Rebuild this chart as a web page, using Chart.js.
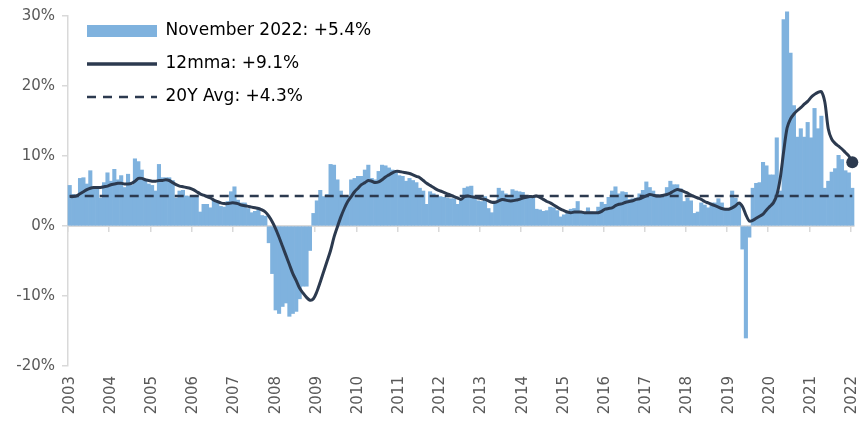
<!DOCTYPE html>
<html>
<head>
<meta charset="utf-8">
<script src="https://cdn.jsdelivr.net/npm/chart.js@4.4.1/dist/chart.umd.min.js"></script>
<style>
html,body{margin:0;padding:0;background:#ffffff;}
canvas{display:block;}
</style>
</head>
<body>
<canvas id="chart" width="862" height="424"></canvas>
<script>
// ---- data ----
const yearTicks = ['2003','2004','2005','2006','2007','2008','2009','2010','2011','2012',
                   '2013','2014','2015','2016','2017','2018','2019','2020','2021','2022'];
const firstMonth = { year: 2003, month: 11 };

// monthly % change (bars)
const monthlyChange = [
  5.8, 4.5, 4.4, 6.8, 6.9, 6.0, 7.9, 5.5, 5.5, 4.0, 6.2, 7.6,
  6.4, 8.1, 6.6, 7.2, 5.5, 7.4, 5.8, 9.6, 9.2, 8.0, 6.6, 6.0,
  5.8, 5.0, 8.8, 6.9, 6.9, 6.9, 6.5, 4.0, 5.0, 5.1, 4.3, 4.2,
  4.3, 4.4, 2.0, 3.1, 3.1, 2.6, 3.7, 3.5, 2.8, 2.7, 3.5, 4.9,
  5.6, 3.7, 3.3, 3.3, 2.5, 1.9, 2.1, 2.6, 1.5, 1.4, -2.4, -6.8,
  -12.0, -12.5, -11.5, -11.0, -12.9, -12.5, -12.2, -10.4, -8.6, -8.6, -3.5, 1.8,
  3.6, 5.1, 4.2, 4.5, 8.8, 8.7, 6.6, 5.0, 4.2, 4.2, 6.6, 6.8,
  7.1, 7.1, 8.0, 8.7, 6.8, 6.6, 7.8, 8.7, 8.6, 8.3, 8.0, 7.9,
  7.2, 7.1, 6.4, 6.8, 6.5, 6.2, 5.4, 5.0, 3.1, 4.9, 4.6, 4.4,
  4.2, 4.1, 4.0, 3.9, 3.9, 3.1, 3.7, 5.4, 5.6, 5.7, 4.2, 3.6,
  3.5, 4.2, 2.5, 1.9, 3.5, 5.4, 5.0, 4.6, 4.2, 5.2, 5.0, 4.9,
  4.8, 4.3, 4.2, 4.2, 2.4, 2.3, 2.1, 2.2, 2.7, 2.6, 2.2, 1.3,
  1.6, 1.8, 2.4, 2.5, 3.5, 1.9, 1.9, 2.6, 2.0, 1.9, 2.7, 3.4,
  3.1, 4.1, 5.0, 5.6, 4.6, 4.9, 4.8, 3.8, 3.9, 4.0, 4.6, 5.1,
  6.3, 5.5, 5.0, 4.5, 4.4, 4.5, 5.5, 6.4, 5.9, 5.9, 5.3, 3.5,
  4.0, 3.6, 1.8, 2.0, 3.3, 3.0, 2.6, 3.3, 3.3, 3.9, 3.3, 2.4,
  2.4, 5.0, 4.0, 3.3, -3.3, -16.0, -1.6, 5.4, 6.1, 6.2, 9.1, 8.6,
  7.3, 7.3, 12.6, 5.0, 29.5, 30.6, 24.7, 17.2, 12.7, 13.9, 12.7, 14.8,
  12.6, 16.8, 13.9, 15.7, 5.4, 6.4, 7.7, 8.2, 10.1, 9.5, 7.9, 7.6,
  5.4
];

// 12-month moving average (line)
const rolling12 = [
  4.2, 4.2, 4.3, 4.6, 4.9, 5.2, 5.4, 5.5, 5.5, 5.5, 5.6, 5.7,
  5.9, 6.0, 6.1, 6.1, 6.0, 6.0, 6.1, 6.4, 6.8, 6.8, 6.6, 6.5,
  6.4, 6.4, 6.5, 6.5, 6.6, 6.5, 6.2, 5.9, 5.7, 5.6, 5.5, 5.4,
  5.2, 4.9, 4.6, 4.4, 4.2, 4.0, 3.7, 3.5, 3.3, 3.2, 3.2, 3.3,
  3.3, 3.2, 3.0, 2.9, 2.8, 2.7, 2.6, 2.5, 2.3, 2.0, 1.4, 0.6,
  -0.4, -1.6, -2.9, -4.2, -5.5, -6.8, -7.8, -8.9, -9.6, -10.2, -10.6, -10.4,
  -9.4, -8.0, -6.5, -5.0, -3.5, -1.6, -0.1, 1.3, 2.5, 3.5, 4.2, 4.9,
  5.4, 5.9, 6.2, 6.5, 6.4, 6.2, 6.3, 6.6, 7.0, 7.3, 7.6, 7.8,
  7.8, 7.7, 7.6, 7.5, 7.3, 7.1, 6.9, 6.5, 6.1, 5.8, 5.5, 5.2,
  5.0, 4.8, 4.6, 4.4, 4.2, 4.0, 3.8, 4.2, 4.3, 4.2, 4.1, 4.0,
  3.9, 3.8, 3.6, 3.4, 3.4, 3.6, 3.8, 3.7, 3.6, 3.6, 3.7, 3.8,
  4.0, 4.1, 4.2, 4.2, 4.3, 4.1, 3.8, 3.5, 3.3, 3.0, 2.7, 2.4,
  2.2, 2.0, 1.9, 2.0, 2.0, 2.0, 1.9, 1.9, 1.9, 1.9, 1.9, 2.1,
  2.4, 2.5, 2.6, 2.9, 3.1, 3.2, 3.4, 3.5, 3.6, 3.8, 3.9, 4.1,
  4.3, 4.5, 4.4, 4.3, 4.3, 4.4, 4.5, 4.7, 5.0, 5.2, 5.1, 4.9,
  4.7, 4.4, 4.2, 4.0, 3.8, 3.5, 3.3, 3.1, 2.9, 2.7, 2.5, 2.4,
  2.4, 2.6, 2.9, 3.3, 2.8, 1.6, 0.7, 0.8, 1.1, 1.4, 1.7, 2.3,
  2.8, 3.3, 4.4, 6.8, 10.6, 14.0, 15.3, 16.0, 16.5, 16.9, 17.4, 17.8,
  18.4, 18.8, 19.1, 19.2, 17.7, 13.9, 12.4, 11.8, 11.4, 11.0, 10.5, 10.0,
  9.1
];

const avg20Y = 4.3;
const legendTexts = ['November 2022: +5.4%', '12mma: +9.1%', '20Y Avg: +4.3%'];

// ---- build ----
const categories = monthlyChange.map((_, i) => {
  const m0 = firstMonth.month - 1 + i;
  return (firstMonth.year + Math.floor(m0 / 12)) + '-' + String(m0 % 12 + 1).padStart(2, '0');
});
const avgLine = categories.map(() => avg20Y);

const barColor = '#7fb2de';
const lineColor = '#2c3a4f';
const axisGrey = '#d9d9d9';
const textGrey = '#595959';
const fontFamily = '"DejaVu Sans", "Liberation Sans", sans-serif';
const lastIdx = rolling12.length - 1;

function buildChart(canvas) {
  const legendPlace = {
    id: 'legendPlace',
    afterLayout(chart) {
      if (chart.legend) { chart.legend.top = 6.5; chart.legend.left = 71; }
    }
  };
  const rotateYears = {
    id: 'rotateYears',
    beforeDraw(chart) {
      const s = chart.scales.x2;
      if (s) { s.labelRotation = 90; s._labelItems = null; }
    }
  };

  const mmaDs = {
    type: 'line', data: rolling12,
    borderColor: lineColor, borderWidth: 3, tension: 0.3,
    pointRadius: c => c.dataIndex === lastIdx ? 6 : 0,
    pointBackgroundColor: lineColor, pointBorderWidth: 0,
    clip: false, order: 1, xAxisID: 'x', yAxisID: 'y'
  };
  const avgDs = {
    type: 'line', data: avgLine,
    borderColor: lineColor, borderWidth: 2.5, borderDash: [9, 6], pointRadius: 0,
    order: 2, xAxisID: 'x', yAxisID: 'y'
  };
  const barDs = {
    type: 'bar', data: monthlyChange,
    backgroundColor: barColor, borderWidth: 0, barPercentage: 1, categoryPercentage: 1,
    clip: false, order: 3, xAxisID: 'x', yAxisID: 'y'
  };

  const legendLabels = {
    usePointStyle: true, pointStyleWidth: 70, boxHeight: 12, padding: 16,
    color: textGrey, font: { family: fontFamily, size: 17 },
    generateLabels: () => [
      { text: legendTexts[0], fillStyle: barColor, strokeStyle: barColor, lineWidth: 0, pointStyle: 'rect', datasetIndex: 2 },
      { text: legendTexts[1], fillStyle: lineColor, strokeStyle: lineColor, lineWidth: 3.5, pointStyle: 'line', datasetIndex: 0 },
      { text: legendTexts[2], fillStyle: lineColor, strokeStyle: lineColor, lineWidth: 2.5, lineDash: [9, 7], pointStyle: 'line', datasetIndex: 1 }
    ]
  };

  const x = {
    type: 'category', position: { y: 0 }, offset: true,
    grid: {
      offset: true, drawOnChartArea: false, tickLength: 5, lineWidth: 1.5,
      color: c => (c.index !== undefined && c.index % 12 === 0) ? axisGrey : 'rgba(0,0,0,0)'
    },
    border: { display: true, color: axisGrey, width: 2 },
    ticks: { display: false, autoSkip: false }
  };
  const x2 = {
    type: 'category', position: 'bottom', offset: true,
    grid: { display: false, drawTicks: false }, border: { display: false },
    ticks: {
      autoSkip: false, minRotation: 90, maxRotation: 90, padding: 10,
      color: textGrey, font: { family: fontFamily, size: 15 },
      callback: (val, i) => i % 12 === 0 ? yearTicks[i / 12] : ''
    },
    afterFit: s => { s.height = 58; s.paddingLeft = 0; s.paddingRight = 0; }
  };
  const y = {
    min: -20, max: 30,
    ticks: { stepSize: 10, padding: 7, color: textGrey, font: { family: fontFamily, size: 15 }, callback: v => v + '%' },
    grid: { drawOnChartArea: false, drawTicks: true, tickLength: 6, color: axisGrey, lineWidth: 1.5 },
    border: { color: axisGrey, width: 1.5 },
    afterFit: s => { s.width = 68; }
  };

  return new Chart(canvas, {
    type: 'bar',
    data: { labels: categories, datasets: [mmaDs, avgDs, barDs] },
    options: {
      responsive: false, animation: false, devicePixelRatio: 1,
      layout: { padding: { top: 13, right: 8, left: 0, bottom: 0 } },
      plugins: {
        tooltip: { enabled: false },
        legend: { position: 'chartArea', align: 'start', labels: legendLabels }
      },
      scales: { x, x2, y }
    },
    plugins: [legendPlace, rotateYears]
  });
}

try {
  buildChart(document.getElementById('chart'));
} catch (e) {
  console.error(e);
}
</script>
</body>
</html>
